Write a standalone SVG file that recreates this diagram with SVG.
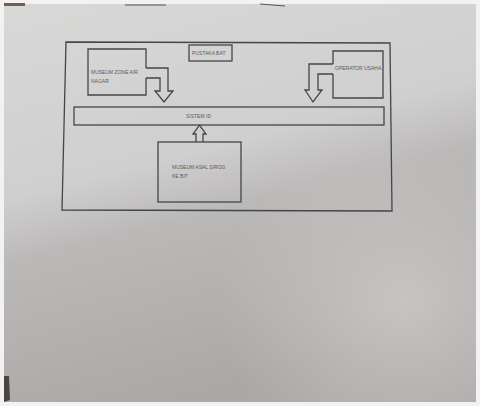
<svg xmlns="http://www.w3.org/2000/svg" width="480" height="406" viewBox="0 0 480 406">
<defs>
<linearGradient id="paper" x1="0" y1="0" x2="0.3" y2="1">
<stop offset="0" stop-color="#d8d8d7"/>
<stop offset="0.45" stop-color="#d0cfcf"/>
<stop offset="0.6" stop-color="#bbb8b8"/>
<stop offset="1" stop-color="#aca8a8"/>
</linearGradient>
<radialGradient id="light" cx="0.85" cy="0.75" r="0.4">
<stop offset="0" stop-color="#ccc9c9" stop-opacity="0.8"/>
<stop offset="1" stop-color="#ccc9c9" stop-opacity="0"/>
</radialGradient>
<style>
.ln{fill:none;stroke:#454545;stroke-width:1.3;stroke-linejoin:miter}
.bx{fill:none;stroke:#454545;stroke-width:1.3}
.t{font-family:"Liberation Sans",Arial,sans-serif;font-size:5px;fill:#5a5a5a}
</style>
</defs>
<rect x="0" y="0" width="480" height="406" fill="#f2f2f2"/>
<rect x="4" y="4" width="472" height="398" fill="url(#paper)"/>
<rect x="4" y="4" width="472" height="398" fill="url(#light)"/>
<path d="M4 376 L9 376 L10 400 L4 402 Z" fill="#4a4644"/>
<path d="M4 3 L25 3 L25 6 L4 6 Z" fill="#7a5a4a"/>
<path d="M125 5 L166 5 M260 4 L285 6" stroke="#555" stroke-width="1"/>
<g id="frame">
<polygon points="66,42 390,43 392,211 62,210" class="ln"/>
</g>
<g id="title">
<rect x="189" y="45" width="43" height="16" class="bx"/>
<text x="192" y="55" class="t">PUSTAKA BAT</text>
</g>
<g id="left-box">
<path class="bx" d="M146 68 L146 49 L88 49 L88 95 L146 95 L146 78"/>
<text x="91" y="74" class="t">MUSEUM ZONE AIR</text>
<text x="91" y="83" class="t">NAGAR</text>
</g>
<g id="right-box">
<path class="bx" d="M333 64 L333 51 L383 51 L383 98 L333 98 L333 74"/>
<text x="335" y="70" class="t">OPERATOR USAHA</text>
</g>
<g id="bar">
<rect x="74" y="107" width="310" height="18" class="bx"/>
<text x="186" y="118" class="t">SISTEM ID</text>
</g>
<g id="bottom-box">
<rect x="158" y="142" width="83" height="60" class="bx"/>
<text x="172" y="169" class="t">MUSEUM ASAL SIROG</text>
<text x="172" y="178" class="t">KE BIT</text>
</g>
<g id="connectors">
<path class="ln" d="M146 68 L168 68 L168 91 L173 91 L164 102 L155 91 L160 91 L160 78 L146 78"/>
<path class="ln" d="M333 64 L309 64 L309 90 L305 90 L313 102 L322 90 L318 90 L318 74 L333 74"/>
<path class="ln" d="M196 142 L196 134 L193 134 L199.5 125 L206 134 L203 134 L203 142"/>
</g>
</svg>
